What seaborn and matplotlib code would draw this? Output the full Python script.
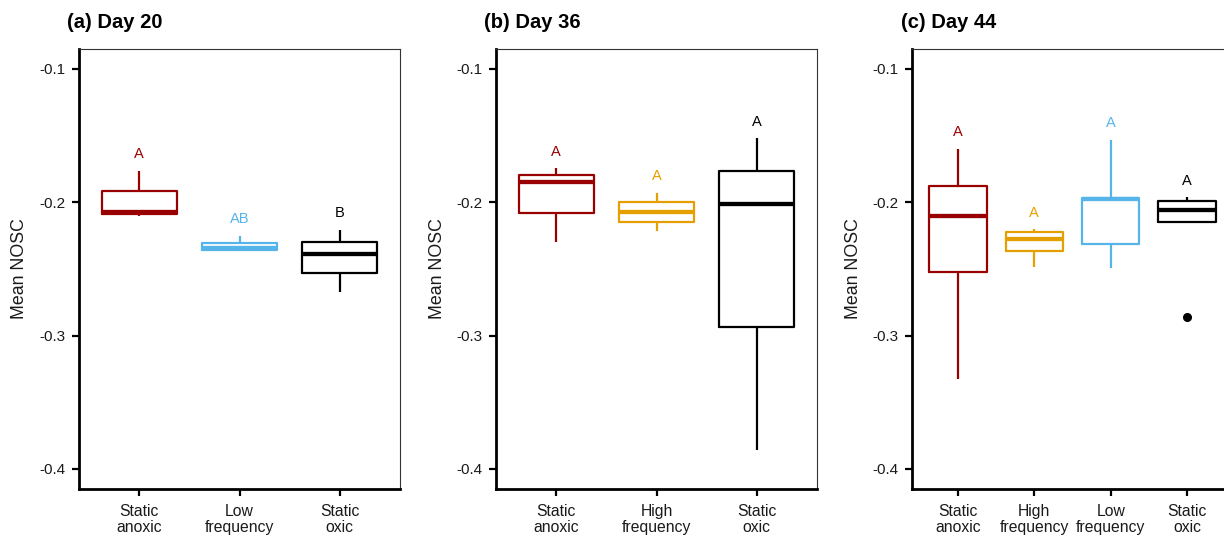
import matplotlib
matplotlib.use("Agg")
import matplotlib.pyplot as plt
import pandas as pd
import seaborn as sns

# Replicate mean NOSC values per treatment for each sampling day
day20_groups = ["Static\nanoxic", "Low\nfrequency", "Static\noxic"]
day20_values = [
    [-0.2103, -0.2085, -0.2070, -0.1913, -0.1764],
    [-0.2358, -0.2356, -0.2344, -0.2303, -0.2251],
    [-0.2674, -0.2528, -0.2385, -0.2295, -0.2208],
]
day20_letters = ["A", "AB", "B"]

day36_groups = ["Static\nanoxic", "High\nfrequency", "Static\noxic"]
day36_values = [
    [-0.2297, -0.2077, -0.1846, -0.1797, -0.1744],
    [-0.2215, -0.2149, -0.2072, -0.2000, -0.1931],
    [-0.3856, -0.2938, -0.2015, -0.1764, -0.1520],
]
day36_letters = ["A", "A", "A"]

day44_groups = ["Static\nanoxic", "High\nfrequency", "Low\nfrequency", "Static\noxic"]
day44_values = [
    [-0.3323, -0.2526, -0.2105, -0.1874, -0.1597],
    [-0.2482, -0.2367, -0.2272, -0.2221, -0.2203],
    [-0.2490, -0.2310, -0.1974, -0.1969, -0.1533],
    [-0.2862, -0.2144, -0.2056, -0.1990, -0.1962],
]
day44_letters = ["A", "A", "A", "A"]

panel_titles = ["(a) Day 20", "(b) Day 36", "(c) Day 44"]

treatment_colors = {
    "Static\nanoxic": "#990000",
    "High\nfrequency": "#E69F00",
    "Low\nfrequency": "#56B4E9",
    "Static\noxic": "#000000",
}

sns.set_style("ticks")
plt.rcParams["font.family"] = ["Liberation Sans", "DejaVu Sans"]

W, H = 1224, 537
fig = plt.figure(figsize=(W / 100, H / 100), dpi=100)

panel_left_px = [79, 496, 912]
panel_title_px = [67, 484, 901]
ylabel_px = [20, 437, 853]
top_px, bottom_px, width_px = 49, 489, 321

panels = [
    (day20_groups, day20_values, day20_letters),
    (day36_groups, day36_values, day36_letters),
    (day44_groups, day44_values, day44_letters),
]

text_color = "#1a1a1a"

for i, (groups, values, letters) in enumerate(panels):
    ax = fig.add_axes([
        panel_left_px[i] / W,
        1 - bottom_px / H,
        width_px / W,
        (bottom_px - top_px) / H,
    ])
    rows = [(g, v) for g, vals in zip(groups, values) for v in vals]
    df = pd.DataFrame(rows, columns=["treatment", "nosc"])
    palette = {g: treatment_colors[g] for g in groups}

    sns.boxplot(
        data=df, x="treatment", y="nosc", hue="treatment", order=groups,
        hue_order=groups, palette=palette, fill=False, width=0.75,
        linewidth=1.6, showcaps=False, legend=False, whis=1.5,
        medianprops={"linewidth": 3.1},
        flierprops={"marker": "o", "markersize": 5.5,
                    "markerfacecolor": "black", "markeredgecolor": "black"},
        ax=ax,
    )

    # significance letters above the upper whisker
    for j, (g, vals, lab) in enumerate(zip(groups, values, letters)):
        q1, q3 = pd.Series(vals).quantile([0.25, 0.75])
        fence = q3 + 1.5 * (q3 - q1)
        top = max(v for v in vals if v <= fence)
        ax.text(j, top + 0.0125, lab, ha="center", va="center",
                fontsize=10.5, color=treatment_colors[g])

    ax.set_xlim(-0.6, len(groups) - 1 + 0.6)
    ax.set_ylim(-0.415, -0.085)
    yt = [-0.4, -0.3, -0.2, -0.1]
    ax.set_yticks(yt)
    ax.set_yticklabels([f"{v:.1f}" for v in yt])
    ax.set_xlabel("")
    ax.set_ylabel("")
    ax.tick_params(axis="both", length=5, width=1.6, color="black",
                   labelcolor=text_color)
    ax.tick_params(axis="y", labelsize=11, pad=4.5)
    ax.tick_params(axis="x", labelsize=11.3, pad=5.5)
    for lbl in ax.get_xticklabels():
        lbl.set_linespacing(1.1)

    for side in ["left", "bottom"]:
        ax.spines[side].set_linewidth(2.0)
        ax.spines[side].set_color("black")
    for side in ["top", "right"]:
        ax.spines[side].set_visible(True)
        ax.spines[side].set_linewidth(0.8)
        ax.spines[side].set_color("#333333")

    fig.text(panel_title_px[i] / W, 1 - 22 / H, panel_titles[i],
             ha="left", va="center", fontsize=14.5, fontweight="bold",
             color="black")
    fig.text(ylabel_px[i] / W, 1 - 269 / H, "Mean NOSC", rotation=90,
             ha="center", va="center", fontsize=12.8, color=text_color)

fig.savefig("out.png", dpi=100)
